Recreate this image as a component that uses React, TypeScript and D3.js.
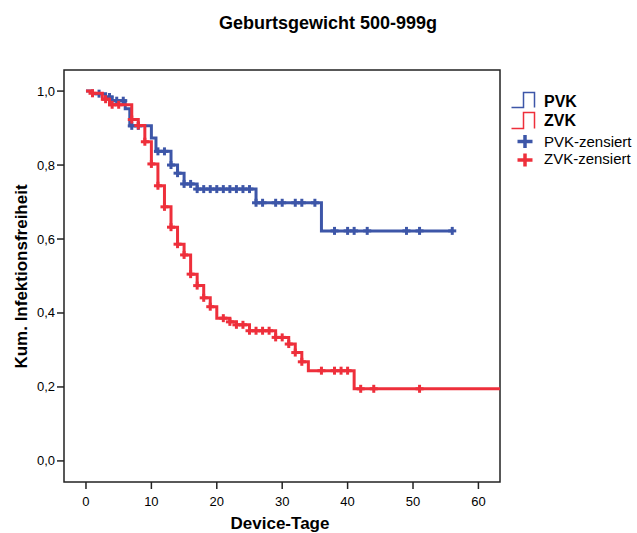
import React from "react";
import * as d3 from "d3";

// ---- data ----
const xTicks = [0, 10, 20, 30, 40, 50, 60];
const yTicks = [0, 0.2, 0.4, 0.6, 0.8, 1.0];

const pvkTimes = [0, 1, 3, 4, 6, 6.7, 10, 10.7, 13, 14, 15, 17, 26, 36];
const pvkSurv = [1.0, 0.993, 0.984, 0.974, 0.952, 0.906, 0.873, 0.837, 0.8, 0.778, 0.749, 0.735, 0.698, 0.622];
const pvkEnd = 56;
const pvkCensored = [2, 3.6, 4.7, 5.7, 7, 8, 11, 12, 13, 14, 15, 16, 17, 18, 19, 20, 21, 22, 23, 24, 25, 26, 27, 29, 30, 32, 33, 35, 38, 40, 41, 43, 49, 51, 56];

const zvkTimes = [0, 1, 2.5, 3.6, 7, 8, 9, 10, 11, 12, 13, 14, 15, 16, 17, 18, 19, 20, 22, 23, 25, 29, 31, 32, 33, 34, 41];
const zvkSurv = [1.0, 0.994, 0.978, 0.963, 0.923, 0.907, 0.863, 0.803, 0.744, 0.687, 0.632, 0.586, 0.557, 0.505, 0.474, 0.441, 0.417, 0.386, 0.376, 0.368, 0.352, 0.334, 0.316, 0.293, 0.268, 0.244, 0.195];
const zvkEnd = 70;
const zvkCensored = [1, 3, 4, 5, 7, 8, 9, 10, 11, 12, 13, 14, 15, 16, 17, 18, 19, 21, 22, 23, 24, 25, 26, 27, 28, 29, 30, 31, 32, 33, 36, 38, 39, 40, 42, 44, 51];

const seriesNames = ["PVK", "ZVK"];
const censorNames = ["PVK-zensiert", "ZVK-zensiert"];

const BLUE = "#3d56a8";
const RED = "#ee2f3b";
const FONT = "'Liberation Sans', Arial, sans-serif";

const W = 637;
const H = 533;
const L = 64, R = 500, T = 70, B = 482;

const x = d3.scaleLinear().domain([-3.36, 63.3]).range([L, R]);
const y = d3.scaleLinear().domain([-0.057, 1.057]).range([B, T]);

function stepPoints(times: number[], surv: number[], end: number): [number, number][] {
  const pts: [number, number][] = times.map((t, i) => [t, surv[i]]);
  pts.push([end, surv[surv.length - 1]]);
  return pts;
}

function survAt(times: number[], surv: number[], t: number): number {
  const i = d3.bisectRight(times, t) - 1;
  return surv[Math.max(0, i)];
}

const line = d3
  .line<[number, number]>()
  .x((d) => x(d[0]))
  .y((d) => y(d[1]))
  .curve(d3.curveStepAfter);

function Plus({ cx, cy, color, h = 4, v = 4, sw = 3 }: any) {
  return (
    <g stroke={color} strokeWidth={sw}>
      <line x1={cx - h} x2={cx + h} y1={cy} y2={cy} />
      <line x1={cx} x2={cx} y1={cy - v} y2={cy + v} />
    </g>
  );
}

export default function App() {
  const series = [
    { times: pvkTimes, surv: pvkSurv, end: pvkEnd, cens: pvkCensored, color: BLUE },
    { times: zvkTimes, surv: zvkSurv, end: zvkEnd, cens: zvkCensored, color: RED },
  ];
  const fmt = (v: number) => v.toFixed(1).replace(".", ",");
  return (
    <svg width={W} height={H} style={{ position: "absolute", left: 0, top: 0 }} fontFamily={FONT}>
      <rect x={0} y={0} width={W} height={H} fill="#fff" />
      <defs>
        <clipPath id="plotclip">
          <rect x={L} y={T} width={R - L} height={B - T} />
        </clipPath>
      </defs>
      <text x={328} y={29} textAnchor="middle" fontSize={18} fontWeight="bold">
        Geburtsgewicht 500-999g
      </text>

      {/* frame */}
      <rect x={L} y={T} width={R - L} height={B - T} fill="none" stroke="#222" strokeWidth={1.5} />

      {/* y axis */}
      {yTicks.map((v) => (
        <g key={"y" + v}>
          <line x1={L - 7} x2={L} y1={y(v)} y2={y(v)} stroke="#222" strokeWidth={1.5} />
          <text x={L - 9} y={y(v) + 4.5} textAnchor="end" fontSize={13}>
            {fmt(v)}
          </text>
        </g>
      ))}
      {/* x axis */}
      {xTicks.map((v) => (
        <g key={"x" + v}>
          <line x1={x(v)} x2={x(v)} y1={B} y2={B + 7} stroke="#222" strokeWidth={1.5} />
          <text x={x(v)} y={506} textAnchor="middle" fontSize={13}>
            {v}
          </text>
        </g>
      ))}
      <text x={280} y={528.5} textAnchor="middle" fontSize={17} fontWeight="bold">
        Device-Tage
      </text>
      <text
        transform={`translate(26.5,276.5) rotate(-90)`}
        textAnchor="middle"
        fontSize={17}
        fontWeight="bold"
      >
        Kum. Infektionsfreiheit
      </text>

      {/* curves */}
      <g clipPath="url(#plotclip)">
        {series.map((s, i) => (
          <g key={"s" + i}>
            <path d={line(stepPoints(s.times, s.surv, s.end)) || ""} fill="none" stroke={s.color} strokeWidth={3} />
            {s.cens.map((t, j) => (
              <Plus key={j} cx={x(t)} cy={y(survAt(s.times, s.surv, t))} color={s.color} />
            ))}
          </g>
        ))}
      </g>

      {/* legend */}
      <g>
        <path d="M511.5,107.5 H523.5 V92.5 H534.5 V107.5" fill="none" stroke={BLUE} strokeWidth={1.5} />
        <text x={544} y={107} fontSize={16} fontWeight="bold">{seriesNames[0]}</text>
        <path d="M511.5,128.5 H523.5 V112.5 H534.5 V128.5" fill="none" stroke={RED} strokeWidth={1.5} />
        <text x={544} y={125.5} fontSize={16} fontWeight="bold">{seriesNames[1]}</text>
        <Plus cx={525} cy={141.5} color={BLUE} h={7.5} v={6.5} sw={3.5} />
        <text x={544} y={146.5} fontSize={15}>{censorNames[0]}</text>
        <Plus cx={525} cy={160} color={RED} h={7.5} v={6.5} sw={3.5} />
        <text x={544} y={163.5} fontSize={15}>{censorNames[1]}</text>
      </g>
    </svg>
  );
}
